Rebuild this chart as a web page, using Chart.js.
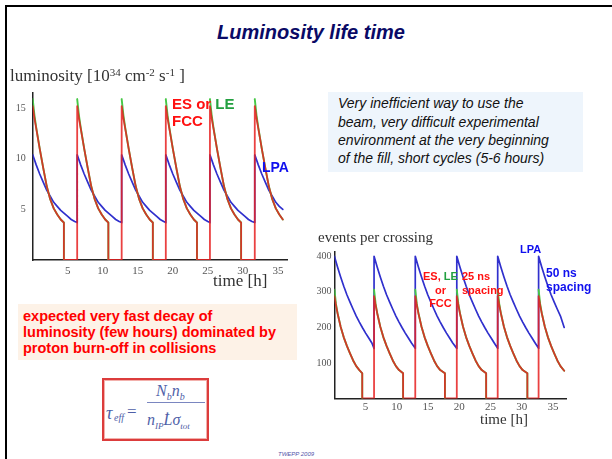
<!DOCTYPE html>
<html>
<head>
<meta charset="utf-8">
<script src="https://cdn.jsdelivr.net/npm/chart.js@4/dist/chart.umd.min.js"></script>
<style>
  html, body { margin:0; padding:0; background:#fff; }
  #page { position:relative; width:612px; height:459px; overflow:hidden; background:#fff; }
  .abs { position:absolute; white-space:nowrap; }
  canvas { position:absolute; }
  .serif { font-family:"Liberation Serif","DejaVu Serif",serif; color:#333; }
  .lab { font-family:"Liberation Sans",Arial,sans-serif; font-weight:bold; }
  .sup { font-size:11px; vertical-align:5px; line-height:0; }
</style>
</head>
<body>
<div id="page">
  <div class="abs" style="left:5px;top:5px;width:620px;height:470px;border-left:2.5px solid #000;border-top:2.5px solid #000;"></div>

  <div class="abs" style="left:0;width:622px;top:22px;text-align:center;font:italic bold 20px 'Liberation Sans',Arial,sans-serif;line-height:20px;color:#0a0a66;">Luminosity life time</div>

  <canvas id="lum" width="300" height="200" style="left:0;top:80px;"></canvas>
  <canvas id="ev" width="300" height="190" style="left:300px;top:240px;"></canvas>

  <div class="abs serif" style="left:10px;top:67px;font-size:17px;line-height:17px;">luminosity [10<span class="sup">34</span> cm<span class="sup">-2</span> s<span class="sup">-1</span> ]</div>
  <div class="abs serif" style="left:213px;top:272px;font-size:17px;line-height:17px;">time [h]</div>
  <div class="abs serif" style="left:318px;top:230px;font-size:15px;line-height:15px;">events per crossing</div>
  <div class="abs serif" style="left:480px;top:412px;font-size:15px;line-height:15px;">time [h]</div>

  <div class="abs lab" style="left:172px;top:96px;font-size:15px;line-height:16.7px;color:#ff1010;">ES or <span style="color:#22a040">LE</span><br>FCC</div>
  <div class="abs lab" style="left:262px;top:160px;font-size:14px;line-height:14px;color:#1010ee;">LPA</div>

  <div class="abs lab" style="left:423px;top:270px;font-size:11px;line-height:13.5px;color:#ff1010;text-align:center;">ES, <span style="color:#22a040">LE</span><br>or<br>FCC</div>
  <div class="abs lab" style="left:462px;top:270px;font-size:11px;line-height:13.5px;color:#ff1010;">25 ns<br>spacing</div>
  <div class="abs lab" style="left:520px;top:243.5px;font-size:11px;line-height:11px;color:#1010ee;">LPA</div>
  <div class="abs lab" style="left:546px;top:266px;font-size:12px;line-height:14px;color:#1010ee;">50 ns<br>spacing</div>

  <div class="abs" style="left:328px;top:92px;width:255px;height:80px;background:#eef5fc;"></div>
  <div class="abs" style="left:338px;top:94.3px;font:italic 14px 'Liberation Sans',Arial,sans-serif;line-height:18.3px;color:#111;">Very inefficient way to use the<br>beam, very difficult experimental<br>environment at the very beginning<br>of the fill, short cycles (5-6 hours)</div>

  <div class="abs" style="left:18px;top:304px;width:279px;height:56px;background:#fdf2e7;"></div>
  <div class="abs lab" style="left:23px;top:307.5px;font-size:14.5px;line-height:16.3px;color:#ff0000;">expected very fast decay of<br>luminosity (few hours) dominated by<br>proton burn-off in collisions</div>

  <div class="abs" style="left:102px;top:378px;width:103px;height:59px;border:2.5px solid #dc3c3c;box-shadow:inset 0 0 0 1px #f2b0ac;"></div>
  <div class="abs" style="left:0;top:0;font-family:'Liberation Serif',serif;font-style:italic;color:#4f5fa8;">
    <span class="abs" style="left:106px;top:403px;font-size:18px;">τ</span>
    <span class="abs" style="left:114px;top:412px;font-size:10px;">eff</span>
    <span class="abs" style="left:127px;top:402px;font-size:17px;font-style:normal;">=</span>
    <span class="abs" style="left:156px;top:382px;font-size:16px;">N<sub style="font-size:10px">b</sub>n<sub style="font-size:10px">b</sub></span>
    <div class="abs" style="left:147px;top:402px;width:58px;height:1px;background:#7a86c0;"></div>
    <span class="abs" style="left:147px;top:411px;font-size:16px;">n<sub style="font-size:9px">IP</sub>L̇σ<sub style="font-size:9px">tot</sub></span>
  </div>

  <div class="abs" style="left:278px;top:451px;font:italic 6px 'Liberation Sans',Arial,sans-serif;color:#5555aa;">TWEPP 2009</div>
</div>

<script>
// ---------- data ----------
const lumXTicks = [5, 10, 15, 20, 25, 30, 35];
const lumYTicks = [5, 10, 15];
const evXTicks = [5, 10, 15, 20, 25, 30, 35];
const evYTicks = [100, 200, 300, 400];

// Luminosity [1e34 cm^-2 s^-1] vs time [h]
const lumES = [
  [0,15.2],[0.25,14.0],[0.5,13.0],[1,11.0],[1.5,9.1],[2,7.3],[2.5,6.0],[3,5.1],[3.5,4.5],[4,4.0],[4.45,3.7],[4.45,0],[6.35,0],
  [6.35,15.2],[6.6,14.0],[6.85,13.0],[7.35,11.0],[7.85,9.1],[8.35,7.3],[8.85,6.0],[9.35,5.1],[9.85,4.5],[10.35,4.0],[10.8,3.7],[10.8,0],[12.7,0],
  [12.7,15.2],[12.95,14.0],[13.2,13.0],[13.7,11.0],[14.2,9.1],[14.7,7.3],[15.2,6.0],[15.7,5.1],[16.2,4.5],[16.7,4.0],[17.15,3.7],[17.15,0],[19.0,0],
  [19.0,15.2],[19.25,14.0],[19.5,13.0],[20,11.0],[20.5,9.1],[21,7.3],[21.5,6.0],[22,5.1],[22.5,4.5],[23,4.0],[23.45,3.7],[23.45,0],[25.3,0],
  [25.3,15.2],[25.55,14.0],[25.8,13.0],[26.3,11.0],[26.8,9.1],[27.3,7.3],[27.8,6.0],[28.3,5.1],[28.8,4.5],[29.3,4.0],[29.75,3.7],[29.75,0],[31.7,0],
  [31.7,15.2],[31.95,14.0],[32.2,13.0],[32.7,11.0],[33.2,9.1],[33.7,7.3],[34.2,6.0],[34.7,5.1],[35.2,4.5],[35.7,4.0]
];
const lumLE = [
  [0,15.9],[0.25,14.3],[0.5,13.1],[1,11.0],[1.5,9.1],[2,7.3],[2.5,6.0],[3,5.1],[3.5,4.5],[4,4.0],[4.45,3.7],[4.45,0],[4.45,null],
  [6.35,15.9],[6.6,14.3],[6.85,13.1],[7.35,11.0],[7.85,9.1],[8.35,7.3],[8.85,6.0],[9.35,5.1],[9.85,4.5],[10.35,4.0],[10.8,3.7],[10.8,0],[10.8,null],
  [12.7,15.9],[12.95,14.3],[13.2,13.1],[13.7,11.0],[14.2,9.1],[14.7,7.3],[15.2,6.0],[15.7,5.1],[16.2,4.5],[16.7,4.0],[17.15,3.7],[17.15,0],[17.15,null],
  [19.0,15.9],[19.25,14.3],[19.5,13.1],[20,11.0],[20.5,9.1],[21,7.3],[21.5,6.0],[22,5.1],[22.5,4.5],[23,4.0],[23.45,3.7],[23.45,0],[23.45,null],
  [25.3,15.9],[25.55,14.3],[25.8,13.1],[26.3,11.0],[26.8,9.1],[27.3,7.3],[27.8,6.0],[28.3,5.1],[28.8,4.5],[29.3,4.0],[29.75,3.7],[29.75,0],[29.75,null],
  [31.7,15.9],[31.95,14.3],[32.2,13.1],[32.7,11.0],[33.2,9.1],[33.7,7.3],[34.2,6.0],[34.7,5.1],[35.2,4.5],[35.7,4.0]
];
const lumLPA = [
  [0,10.4],[0.5,9.4],[1,8.5],[1.5,7.7],[2,6.9],[2.5,6.3],[3,5.7],[3.5,5.3],[4,4.9],[4.5,4.6],[5,4.3],[5.5,4.0],[6,3.8],[6.35,3.7],
  [6.35,10.4],[6.85,9.4],[7.35,8.5],[7.85,7.7],[8.35,6.9],[8.85,6.3],[9.35,5.7],[9.85,5.3],[10.35,4.9],[10.85,4.6],[11.35,4.3],[11.85,4.0],[12.35,3.8],[12.7,3.7],
  [12.7,10.4],[13.2,9.4],[13.7,8.5],[14.2,7.7],[14.7,6.9],[15.2,6.3],[15.7,5.7],[16.2,5.3],[16.7,4.9],[17.2,4.6],[17.7,4.3],[18.2,4.0],[18.7,3.8],[19.0,3.7],
  [19.0,10.4],[19.5,9.4],[20,8.5],[20.5,7.7],[21,6.9],[21.5,6.3],[22,5.7],[22.5,5.3],[23,4.9],[23.5,4.6],[24,4.3],[24.5,4.0],[25,3.8],[25.3,3.7],
  [25.3,10.4],[25.8,9.4],[26.3,8.5],[26.8,7.7],[27.3,6.9],[27.8,6.3],[28.3,5.7],[28.8,5.3],[29.3,4.9],[29.8,4.6],[30.3,4.3],[30.8,4.0],[31.3,3.8],[31.7,3.7],
  [31.7,10.4],[32.2,9.4],[32.7,8.5],[33.2,7.7],[33.7,6.9],[34.2,6.3],[34.7,5.7],[35.2,5.3],[35.7,5.0]
];

// Events per crossing vs time [h]
const evES = [
  [0,288],[0.25,262],[0.5,240],[1,202],[1.5,172],[2,148],[2.5,127],[3,107],[3.5,91],[4,80],[4.46,71],[4.46,0],[6.35,0],
  [6.35,288],[6.6,262],[6.85,240],[7.35,202],[7.85,172],[8.35,148],[8.85,127],[9.35,107],[9.85,91],[10.35,80],[11.0,71],[11.0,0],[12.95,0],
  [12.95,288],[13.2,262],[13.45,240],[13.95,202],[14.45,172],[14.95,148],[15.45,127],[15.95,107],[16.45,91],[16.95,80],[17.7,71],[17.7,0],[19.6,0],
  [19.6,288],[19.85,262],[20.1,240],[20.6,202],[21.1,172],[21.6,148],[22.1,127],[22.6,107],[23.1,91],[23.6,80],[24.3,71],[24.3,0],[26.15,0],
  [26.15,288],[26.4,262],[26.65,240],[27.15,202],[27.65,172],[28.15,148],[28.65,127],[29.15,107],[29.65,91],[30.15,80],[30.9,71],[30.9,0],[32.7,0],
  [32.7,288],[32.95,262],[33.2,240],[33.7,202],[34.2,172],[34.7,148],[35.2,127],[35.7,107],[36.2,91],[36.8,78]
];
const evLE = [
  [0,306],[0.25,266],[0.5,241],[1,202],[1.5,172],[2,148],[2.5,127],[3,107],[3.5,91],[4,80],[4.46,71],[4.46,0],[4.46,null],
  [6.35,306],[6.6,266],[6.85,241],[7.35,202],[7.85,172],[8.35,148],[8.85,127],[9.35,107],[9.85,91],[10.35,80],[11.0,71],[11.0,0],[11.0,null],
  [12.95,306],[13.2,266],[13.45,241],[13.95,202],[14.45,172],[14.95,148],[15.45,127],[15.95,107],[16.45,91],[16.95,80],[17.7,71],[17.7,0],[17.7,null],
  [19.6,306],[19.85,266],[20.1,241],[20.6,202],[21.1,172],[21.6,148],[22.1,127],[22.6,107],[23.1,91],[23.6,80],[24.3,71],[24.3,0],[24.3,null],
  [26.15,306],[26.4,266],[26.65,241],[27.15,202],[27.65,172],[28.15,148],[28.65,127],[29.15,107],[29.65,91],[30.15,80],[30.9,71],[30.9,0],[30.9,null],
  [32.7,306],[32.95,266],[33.2,241],[33.7,202],[34.2,172],[34.7,148],[35.2,127],[35.7,107],[36.2,91],[36.8,78]
];
const evLPA = [
  [0,400],[0.5,370],[1,342],[1.5,316],[2,292],[2.5,271],[3,251],[3.5,232],[4,215],[4.5,199],[5,184],[5.5,170],[6,156],[6.35,141],
  [6.35,400],[6.85,370],[7.35,342],[7.85,316],[8.35,292],[8.85,271],[9.35,251],[9.85,232],[10.35,215],[10.85,199],[11.35,184],[11.85,170],[12.35,156],[12.95,141],
  [12.95,400],[13.45,370],[13.95,342],[14.45,316],[14.95,292],[15.45,271],[15.95,251],[16.45,232],[16.95,215],[17.45,199],[17.95,184],[18.45,170],[18.95,156],[19.6,141],
  [19.6,400],[20.1,370],[20.6,342],[21.1,316],[21.6,292],[22.1,271],[22.6,251],[23.1,232],[23.6,215],[24.1,199],[24.6,184],[25.1,170],[25.6,156],[26.15,141],
  [26.15,400],[26.65,370],[27.15,342],[27.65,316],[28.15,292],[28.65,271],[29.15,251],[29.65,232],[30.15,215],[30.65,199],[31.15,184],[31.65,170],[32.15,156],[32.7,141],
  [32.7,400],[33.2,370],[33.7,342],[34.2,316],[34.7,292],[35.2,271],[35.7,251],[36.2,232],[36.8,200]
];

// ---------- chart building ----------
const pts = arr => arr.map(([x, y]) => ({ x, y }));
const RED = 'rgba(230,34,34,0.86)', GREEN = 'rgb(70,200,70)', BLUE = 'rgb(48,48,205)';

function makeChart(id, es, le, lpa, xTicks, yTicks, xMax, yMax, yWidth, pad, yPad, xPad) {
  const tickFont = { family: "'Liberation Serif', serif", size: 10 };
  return new Chart(document.getElementById(id), {
    type: 'line',
    data: {
      datasets: [
        { data: pts(es), borderColor: RED, borderWidth: 1.8 },
        { data: pts(le), borderColor: GREEN, borderWidth: 1.9 },
        { data: pts(lpa), borderColor: BLUE, borderWidth: 1.7 }
      ]
    },
    options: {
      responsive: false, animation: false, devicePixelRatio: 1,
      parsing: true, spanGaps: false,
      elements: { point: { radius: 0 }, line: { tension: 0, borderJoinStyle: 'round', borderCapStyle: 'round' } },
      layout: { padding: pad },
      plugins: { legend: { display: false }, tooltip: { enabled: false } },
      scales: {
        x: {
          type: 'linear', min: 0, max: xMax,
          grid: { display: true, drawOnChartArea: false, drawTicks: false },
          border: { display: true, color: '#222', width: 1.5 },
          ticks: { font: { ...tickFont, size: 11 }, color: '#555', padding: xPad, maxRotation: 0, autoSkip: false },
          afterBuildTicks: s => { s.ticks = xTicks.map(v => ({ value: v })); },
          afterFit: s => { s.height = 18; }
        },
        y: {
          type: 'linear', min: 0, max: yMax,
          grid: { display: true, drawOnChartArea: false, drawTicks: false },
          border: { display: true, color: '#222', width: 1.5 },
          ticks: { font: tickFont, color: '#555', padding: yPad, autoSkip: false },
          afterBuildTicks: s => { s.ticks = yTicks.map(v => ({ value: v })); },
          afterFit: s => { s.width = yWidth; }
        }
      }
    }
  });
}

makeChart('lum', lumES, lumLE, lumLPA, lumXTicks, lumYTicks, 36.3, 16.5, 20,
  { left: 12.7, top: 8.4, right: 13, bottom: 2 }, 7, 5);
makeChart('ev', evES, evLE, evLPA, evXTicks, evYTicks, 37.2, 413, 28,
  { left: 6.4, top: 11.7, right: 33.3, bottom: 13.5 }, 3, 2);
</script>
</body>
</html>
